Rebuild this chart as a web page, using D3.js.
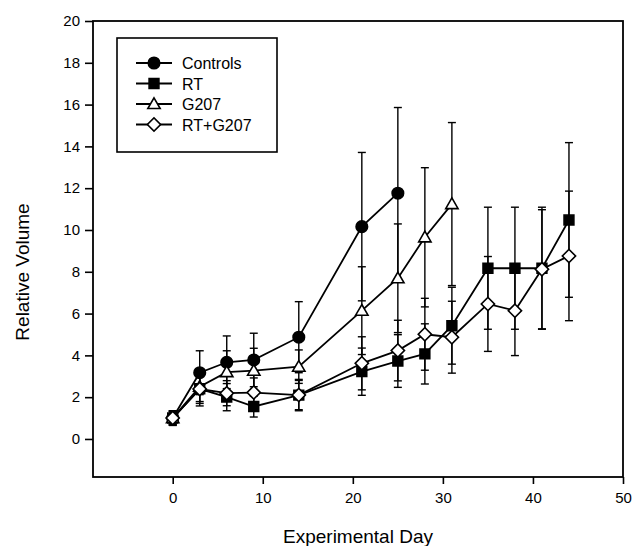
<!DOCTYPE html>
<html>
<head>
<meta charset="utf-8">
<script src="https://cdn.jsdelivr.net/npm/d3@7"></script>
<style>
  body { margin: 0; background: #fff; }
  svg { display: block; font-family: "Liberation Sans", Arial, sans-serif; }
</style>
</head>
<body>
<div id="chart"></div>
<script>
// data
var days      = [0, 3, 6, 9, 14, 21, 25, 28, 31, 35, 38, 41, 44];
var controls    = [1.0, 3.17, 3.67, 3.78, 4.87, 10.16, 11.76];
var controlsErr = [0.35, 1.05, 1.26, 1.28, 1.7, 3.55, 4.1];
var rt          = [1.0, 2.4, 2.0, 1.55, 2.1, 3.22, 3.73, 4.07, 5.42, 8.17, 8.17, 8.17, 10.48];
var rtErr       = [0.3, 0.82, 0.65, 0.5, 0.75, 1.13, 1.26, 1.44, 1.84, 2.92, 2.92, 2.92, 3.7];
var g207        = [1.0, 2.5, 3.2, 3.27, 3.46, 6.14, 7.69, 9.65, 11.24];
var g207Err     = [0.3, 0.8, 1.02, 1.07, 0.8, 2.1, 2.6, 3.33, 3.9];
var combo       = [1.0, 2.39, 2.19, 2.22, 2.1, 3.62, 4.23, 5.01, 4.87, 6.46, 6.14, 8.12, 8.76];
var comboErr    = [0.35, 0.6, 0.6, 0.7, 0.7, 1.27, 1.45, 1.72, 1.72, 2.27, 2.15, 2.85, 3.1];
var seriesNames = ['Controls', 'RT', 'G207', 'RT+G207'];
var xTicks = [0, 10, 20, 30, 40, 50];
var yTicks = [0, 2, 4, 6, 8, 10, 12, 14, 16, 18, 20];

//config options
var width    = 632
  , height   = 546
  , plotL    = 93
  , plotR    = 623
  , plotT    = 21
  , plotB    = 477
;

var series = [
  { name: seriesNames[0], vals: controls, err: controlsErr, shape: 'circle', fill: '#000' },
  { name: seriesNames[1], vals: rt,       err: rtErr,       shape: 'square', fill: '#000' },
  { name: seriesNames[2], vals: g207,     err: g207Err,     shape: 'triangle', fill: '#fff' },
  { name: seriesNames[3], vals: combo,    err: comboErr,    shape: 'diamond', fill: '#fff' }
];
series.forEach(function (s) {
  s.points = s.vals.map(function (v, i) { return { x: days[i], y: v, e: s.err[i] }; });
});

var x = d3.scaleLinear().domain([-8.85, 50]).range([plotL, plotR]);
var y = d3.scaleLinear().domain([-1.82, 20]).range([plotB, plotT]);

var svg = d3.select('#chart').append('svg')
    .attr('width', width)
    .attr('height', height);

// frame
svg.append('rect')
    .attr('x', plotL).attr('y', plotT)
    .attr('width', plotR - plotL).attr('height', plotB - plotT)
    .attr('fill', 'none').attr('stroke', '#000').attr('stroke-width', 1.8);

// axes
var yAxis = svg.append('g')
    .attr('transform', 'translate(' + plotL + ',0)')
    .call(d3.axisLeft(y).tickValues(yTicks).tickSize(8).tickPadding(5));
var xAxis = svg.append('g')
    .attr('transform', 'translate(0,' + plotB + ')')
    .call(d3.axisBottom(x).tickValues(xTicks).tickSize(7).tickPadding(8));
[xAxis, yAxis].forEach(function (g) {
  g.select('.domain').remove();
  g.selectAll('line').attr('stroke', '#000').attr('stroke-width', 1.6);
  g.selectAll('text').attr('fill', '#000').style('font-size', '15px')
      .style('font-family', '"Liberation Sans", Arial, sans-serif');
});

// axis titles
svg.append('text')
    .attr('x', (plotL + plotR) / 2).attr('y', 543)
    .attr('text-anchor', 'middle')
    .style('font-size', '19px')
    .text('Experimental Day');
svg.append('text')
    .attr('transform', 'translate(29,' + 272 + ') rotate(-90)')
    .attr('text-anchor', 'middle')
    .style('font-size', '19px')
    .text('Relative Volume');

// symbols
function symbolPath(shape) {
  if (shape === 'circle') return d3.symbol(d3.symbolCircle, 104)();
  if (shape === 'square') return d3.symbol(d3.symbolSquare, 96)();
  if (shape === 'triangle') return d3.symbol(d3.symbolTriangle, 66)();
  return d3.symbol(d3.symbolSquare, 88)();
}
function symbolTransform(shape, px, py) {
  var t = 'translate(' + px + ',' + py + ')';
  if (shape === 'triangle') t += ' translate(0,1)';
  if (shape === 'diamond') t += ' rotate(45)';
  return t;
}

var plot = svg.append('g');

// error bars
series.forEach(function (s) {
  var eb = plot.append('g').attr('class', 'errbars');
  s.points.forEach(function (p) {
    var cx = x(p.x), y1 = y(p.y + p.e), y2 = y(p.y - p.e);
    eb.append('line').attr('x1', cx).attr('x2', cx).attr('y1', y1).attr('y2', y2);
    eb.append('line').attr('x1', cx - 4).attr('x2', cx + 4).attr('y1', y1).attr('y2', y1);
    eb.append('line').attr('x1', cx - 4).attr('x2', cx + 4).attr('y1', y2).attr('y2', y2);
  });
  eb.selectAll('line').attr('stroke', '#000').attr('stroke-width', 1.4);
});

// lines
var line = d3.line().x(function (d) { return x(d.x); }).y(function (d) { return y(d.y); });
series.forEach(function (s) {
  plot.append('path')
      .datum(s.points)
      .attr('d', line)
      .attr('fill', 'none')
      .attr('stroke', '#000')
      .attr('stroke-width', 1.8);
});

// markers
series.forEach(function (s) {
  plot.append('g').selectAll('path')
      .data(s.points)
      .enter()
      .append('path')
      .attr('d', symbolPath(s.shape))
      .attr('transform', function (d) { return symbolTransform(s.shape, x(d.x), y(d.y)); })
      .attr('fill', s.fill)
      .attr('stroke', '#000')
      .attr('stroke-width', 1.6);
});

// legend
var legend = svg.append('g');
legend.append('rect')
    .attr('x', 117).attr('y', 38).attr('width', 160).attr('height', 114)
    .attr('fill', '#fff').attr('stroke', '#000').attr('stroke-width', 1.6);
series.forEach(function (s, i) {
  var ly = 63 + i * 20.5;
  legend.append('line')
      .attr('x1', 136).attr('x2', 172).attr('y1', ly).attr('y2', ly)
      .attr('stroke', '#000').attr('stroke-width', 1.8);
  legend.append('path')
      .attr('d', symbolPath(s.shape))
      .attr('transform', symbolTransform(s.shape, 154, ly))
      .attr('fill', s.fill).attr('stroke', '#000').attr('stroke-width', 1.6);
  legend.append('text')
      .attr('x', 182).attr('y', ly + 6)
      .style('font-size', '16px')
      .text(s.name);
});
</script>
</body>
</html>
